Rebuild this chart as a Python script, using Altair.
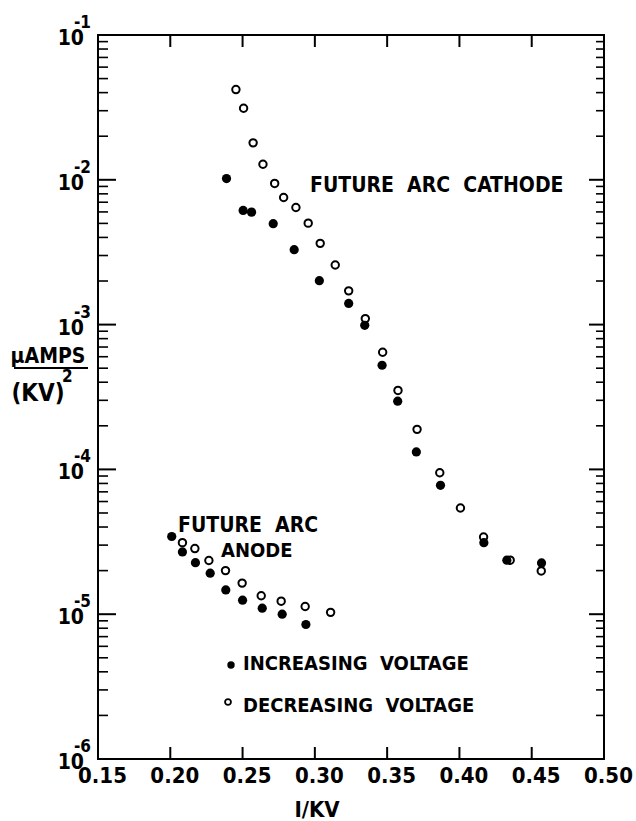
import altair as alt
import pandas as pd

# ---- data ----
cath_inc_x = [0.2389, 0.2504, 0.2562, 0.2712, 0.2857, 0.3031, 0.3234, 0.3345,
              0.3465, 0.3573, 0.3702, 0.3869, 0.4169, 0.4328, 0.4568]
cath_inc_y = [1.02e-2, 6.14e-3, 5.98e-3, 4.98e-3, 3.29e-3, 2.01e-3, 1.40e-3, 9.89e-4,
              5.24e-4, 2.96e-4, 1.32e-4, 7.76e-5, 3.12e-5, 2.36e-5, 2.26e-5]
cath_dec_x = [0.2454, 0.2507, 0.2573, 0.2641, 0.2722, 0.2784, 0.2869, 0.2954, 0.3037,
              0.3141, 0.3234, 0.3349, 0.3469, 0.3575, 0.3707, 0.3864, 0.4007, 0.4167,
              0.4351, 0.4566]
cath_dec_y = [4.20e-2, 3.12e-2, 1.80e-2, 1.28e-2, 9.44e-3, 7.55e-3, 6.44e-3, 5.02e-3, 3.64e-3,
              2.58e-3, 1.71e-3, 1.10e-3, 6.44e-4, 3.51e-4, 1.89e-4, 9.48e-5, 5.41e-5, 3.41e-5,
              2.36e-5, 1.99e-5]
anode_inc_x = [0.2010, 0.2084, 0.2174, 0.2276, 0.2384, 0.2500, 0.2636, 0.2774, 0.2938]
anode_inc_y = [3.44e-5, 2.69e-5, 2.27e-5, 1.92e-5, 1.47e-5, 1.25e-5, 1.10e-5, 1.00e-5, 8.49e-6]
anode_dec_x = [0.2084, 0.2170, 0.2267, 0.2382, 0.2497, 0.2629, 0.2767, 0.2933, 0.3109]
anode_dec_y = [3.12e-5, 2.84e-5, 2.35e-5, 2.00e-5, 1.64e-5, 1.34e-5, 1.23e-5, 1.13e-5, 1.03e-5]

x_ticks = [0.15, 0.20, 0.25, 0.30, 0.35, 0.40, 0.45, 0.50]
y_decades = [-1, -2, -3, -4, -5, -6]

FONT = "DejaVu Sans Condensed, Roboto, sans-serif"
W, H = 506, 724

inc = pd.DataFrame({"x": cath_inc_x + anode_inc_x, "y": cath_inc_y + anode_inc_y})
dec = pd.DataFrame({"x": cath_dec_x + anode_dec_x, "y": cath_dec_y + anode_dec_y})

xscale = alt.Scale(domain=[0.15, 0.50], nice=False, zero=False)
yscale = alt.Scale(type="log", domain=[1e-6, 1e-1], nice=False)

xaxis = alt.Axis(values=x_ticks, format=".2f", ticks=False, domain=False, grid=False,
                 labelFont=FONT, labelFontSize=22, labelFontWeight="bold", labelColor="black",
                 labelPadding=6, labelOffset=4, title=None, labelFlush=False, labelOverlap=False)


def X(field):
    return alt.X(field, type="quantitative", scale=xscale, axis=xaxis)


def Y(field):
    return alt.Y(field, type="quantitative", scale=yscale, axis=None)


filled = alt.Chart(inc).mark_point(filled=True, shape="circle", size=85, color="black",
                                   opacity=1).encode(x=X("x"), y=Y("y"))
opened = alt.Chart(dec).mark_point(filled=False, shape="circle", size=55, color="black",
                                   strokeWidth=2, opacity=1).encode(x=X("x"), y=Y("y"))

# ---- frame ticks ----
major = pd.DataFrame({"v": [10.0 ** e for e in y_decades]})
minor = pd.DataFrame({"v": [m * 10.0 ** e for e in range(-6, -1) for m in range(2, 10)]})
xt = pd.DataFrame({"v": x_ticks[1:-1]})

tick_layers = [
    alt.Chart(major).mark_rule(color="black", strokeWidth=2).encode(
        y=Y("v"), x=alt.value(0), x2=alt.value(18)),
    alt.Chart(minor).mark_rule(color="black", strokeWidth=1.6).encode(
        y=Y("v"), x=alt.value(0), x2=alt.value(10)),
    alt.Chart(major).mark_rule(color="black", strokeWidth=2).encode(
        y=Y("v"), x=alt.value(W), x2=alt.value(W - 15)),
    alt.Chart(minor).mark_rule(color="black", strokeWidth=1.6).encode(
        y=Y("v"), x=alt.value(W), x2=alt.value(W - 8)),
    alt.Chart(xt).mark_rule(color="black", strokeWidth=2).encode(
        x=X("v"), y=alt.value(H), y2=alt.value(H - 12)),
    alt.Chart(xt).mark_rule(color="black", strokeWidth=2).encode(
        x=X("v"), y=alt.value(0), y2=alt.value(12)),
]

# ---- y tick labels 10^n ----
dec_df = pd.DataFrame({"v": [10.0 ** e for e in y_decades],
                       "ex": [str(e) for e in y_decades]})
ten = alt.Chart(dec_df).mark_text(font=FONT, fontSize=21, fontWeight="bold", align="right",
                                  baseline="alphabetic", dy=10, color="black").encode(
    y=Y("v"), x=alt.value(-14), text=alt.value("10"))
expo = alt.Chart(dec_df).mark_text(font=FONT, fontSize=17, fontWeight="bold", align="left",
                                   baseline="alphabetic", dy=-7, color="black").encode(
    y=Y("v"), x=alt.value(-24), text="ex:N")


def label(txt, x, y, size, align="left"):
    return alt.Chart(pd.DataFrame({"t": [txt]})).mark_text(
        font=FONT, fontSize=size, fontWeight="bold", align=align, baseline="alphabetic",
        color="black").encode(x=alt.value(x), y=alt.value(y), text="t:N")


nb = "\u00a0"
texts = [
    label("FUTURE" + nb * 2 + "ARC" + nb * 2 + "CATHODE", 212, 157, 21),
    label("FUTURE" + nb * 2 + "ARC", 80, 497, 21),
    label("ANODE", 123, 522, 20),
    label("INCREASING" + nb * 2 + "VOLTAGE", 145, 635, 20),
    label("DECREASING" + nb * 2 + "VOLTAGE", 145, 677, 20),
    label("\u03bcAMPS", -50, 328, 21, "center"),
    label("(KV)", -60, 366, 24, "center"),
    label("2", -36, 347, 17),
    label("I/KV", 219, 782, 22, "center"),
]

frac = alt.Chart(pd.DataFrame({"a": [0]})).mark_rule(color="black", strokeWidth=2).encode(
    x=alt.value(-84), x2=alt.value(-10), y=alt.value(333))

leg_f = alt.Chart(pd.DataFrame({"a": [0]})).mark_point(
    filled=True, shape="circle", size=55, color="black", opacity=1).encode(
    x=alt.value(133), y=alt.value(630))
leg_o = alt.Chart(pd.DataFrame({"a": [0]})).mark_point(
    filled=False, shape="circle", size=35, color="black", strokeWidth=1.8, opacity=1).encode(
    x=alt.value(130), y=alt.value(667))

chart = alt.layer(filled, opened, *tick_layers, ten, expo, *texts, frac, leg_f, leg_o).properties(
    width=W, height=H,
    padding={"left": 98, "top": 35, "right": 32, "bottom": 62},
    autosize=alt.AutoSizeParams(type="none"),
    background="white",
).configure_view(stroke="black", strokeWidth=2)

chart.save("out.html", embed_options={"renderer": "svg", "actions": False})
